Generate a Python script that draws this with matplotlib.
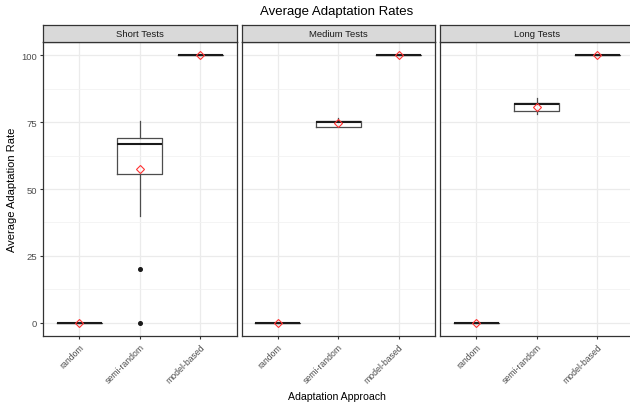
import matplotlib
matplotlib.use("Agg")
import matplotlib.pyplot as plt

plt.rcParams["font.family"] = ["Liberation Sans", "DejaVu Sans"]

# ------------ data -------------#
panels = ["Short Tests", "Medium Tests", "Long Tests"]
approaches = ["random", "semi-random", "model-based"]

whislo = [[0, 40, 100], [0, 73.3, 100], [0, 78, 100]]
q1 = [[0, 55.5, 100], [0, 73.3, 100], [0, 79.2, 100]]
med = [[0, 67, 100], [0, 75, 100], [0, 81.7, 100]]
q3 = [[0, 69.2, 100], [0, 75.3, 100], [0, 82, 100]]
whishi = [[0, 75.3, 100], [0, 76.5, 100], [0, 84.2, 100]]
means = [[0, 57.5, 100], [0, 74.6, 100], [0, 80.8, 100]]
fliers = [[[], [0, 20], []], [[], [], []], [[], [], []]]

y_ticks = [0, 25, 50, 75, 100]

# ------------ plotting -------------#
W, H = 630, 406
fig = plt.figure(figsize=(W / 100, H / 100), dpi=100)

dark = "#333333"
grid_col = "#EBEBEB"
tick_col = "#4D4D4D"

panel_left = [43, 241.5, 440]
panel_w = 193.5
top_y, strip_y, bottom_y = 26, 43, 337

for i, name in enumerate(panels):
    x0 = panel_left[i] / W
    ax = fig.add_axes([x0, 1 - bottom_y / H, panel_w / W, (bottom_y - strip_y) / H])
    strip = fig.add_axes([x0, 1 - strip_y / H, panel_w / W, (strip_y - top_y) / H])

    stats = []
    for j, a in enumerate(approaches):
        stats.append(dict(label=a, whislo=whislo[i][j], q1=q1[i][j], med=med[i][j],
                          q3=q3[i][j], whishi=whishi[i][j], fliers=fliers[i][j]))
    pos = list(range(1, len(approaches) + 1))
    ax.bxp(stats, positions=pos, widths=0.75, showcaps=False,
           boxprops=dict(color="#4D4D4D", linewidth=0.9),
           whiskerprops=dict(color="#4D4D4D", linewidth=0.9),
           medianprops=dict(color="#1a1a1a", linewidth=1.5),
           flierprops=dict(marker="o", markerfacecolor="#1a1a1a", markeredgecolor="#1a1a1a",
                           markersize=2.6))
    ax.plot(pos, means[i], linestyle="none", marker="D", markersize=4.3,
            markerfacecolor="none", markeredgecolor="#FF3333", markeredgewidth=0.8, zorder=5)

    ax.set_xlim(0.4, 3.6)
    ax.set_ylim(-5, 105)
    ax.set_yticks(y_ticks)
    ax.set_yticks([12.5, 37.5, 62.5, 87.5], minor=True)
    ax.set_xticks(pos)
    ax.set_xticklabels(approaches, rotation=45, ha="right", rotation_mode="anchor",
                       fontsize=6.3, color=tick_col)
    ax.tick_params(axis="y", which="minor", length=0)
    ax.tick_params(axis="y", which="major", labelsize=6.8)
    ax.tick_params(axis="both", which="major", length=2.5, width=0.8, color=dark,
                   labelcolor=tick_col, pad=2)
    if i > 0:
        ax.tick_params(axis="y", which="major", left=False, labelleft=False)
    ax.grid(True, which="major", color=grid_col, linewidth=0.9)
    ax.grid(True, which="minor", axis="y", color="#F2F2F2", linewidth=0.6)
    ax.set_axisbelow(True)
    for s in ax.spines.values():
        s.set_color(dark)
        s.set_linewidth(0.9)

    strip.set_facecolor("#D9D9D9")
    strip.set_xticks([])
    strip.set_yticks([])
    for s in strip.spines.values():
        s.set_color(dark)
        s.set_linewidth(0.9)
    strip.text(0.5, 0.5, name, ha="center", va="center", fontsize=6.8,
               color="#1A1A1A", transform=strip.transAxes)

fig.text(337 / W, 1 - 12 / H, "Average Adaptation Rates", ha="center", va="center",
         fontsize=9.5, color="black")
fig.text(337 / W, 1 - 397 / H, "Adaptation Approach", ha="center", va="center",
         fontsize=7.6, color="black")
fig.text(12 / W, 1 - 190 / H, "Average Adaptation Rate", ha="center", va="center",
         rotation=90, fontsize=8, color="black")

fig.savefig("out.png", dpi=100)
